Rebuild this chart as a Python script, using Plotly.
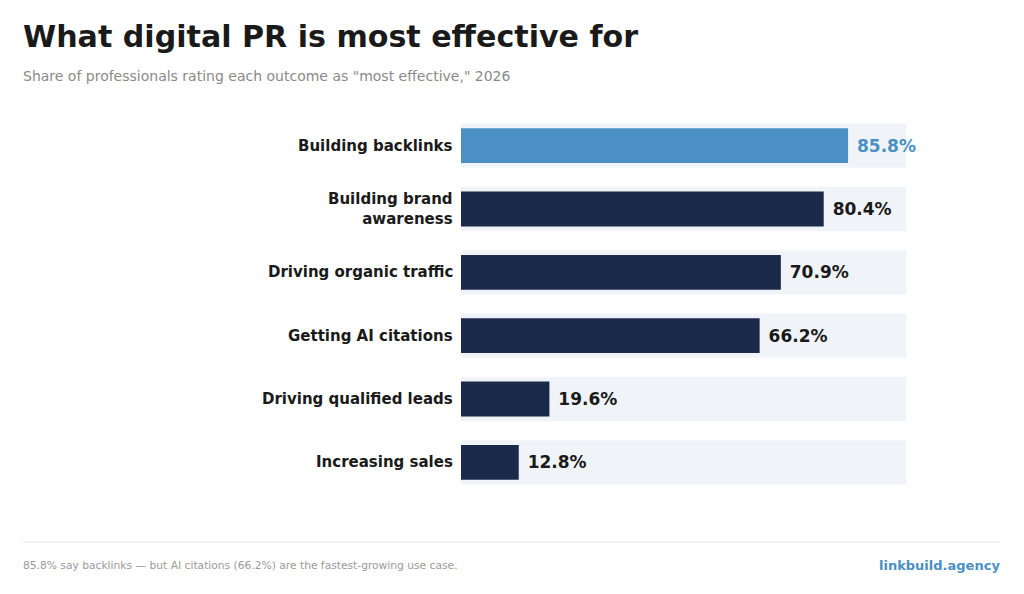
import plotly.graph_objects as go

categories = ["Building backlinks", "Building brand<br>awareness", "Driving organic traffic",
              "Getting AI citations", "Driving qualified leads", "Increasing sales"]
values = [85.8, 80.4, 70.9, 66.2, 19.6, 12.8]
track_max = 98.7

cats = categories[::-1]
vals = values[::-1]
colors = ["#4a90c4" if v == max(values) else "#1b2a4a" for v in vals]
textcolors = ["#4a90c4" if v == max(values) else "#1a1a1a" for v in vals]

OFF = 8  # page offset
W, H = 1024, 594
pl, pr, pt, pb = 461 - OFF, 106 + OFF, 114 - OFF, 100 + OFF
pw, ph = W - pl - pr, H - pt - pb

def px(x): return (x - OFF - pl) / pw
def py(y): return (H - pb - (y - OFF)) / ph

fig = go.Figure()
fig.add_bar(y=cats, x=[track_max]*len(cats), orientation="h", width=0.7,
            marker=dict(color="#f0f4f8", line_width=0), hoverinfo="skip", showlegend=False)
fig.add_bar(y=cats, x=vals, orientation="h", width=0.55,
            marker=dict(color=colors, line_width=0), showlegend=False,
            text=[f"<b> {v:.1f}%</b>" for v in vals], textposition="outside",
            textfont=dict(size=17, color=textcolors, family="DejaVu Sans"),
            cliponaxis=False)

ann = [
    dict(text="<b>What digital PR is most effective for</b>", x=px(21), y=py(37),
         xanchor="left", yanchor="middle", font=dict(size=30.1, color="#1a1a1a")),
    dict(text='Share of professionals rating each outcome as "most effective," 2026', x=px(21), y=py(76),
         xanchor="left", yanchor="middle", font=dict(size=14, color="#8a8a8a")),
    dict(text="85.8% say backlinks — but AI citations (66.2%) are the fastest-growing use case.",
         x=px(21), y=py(565), xanchor="left", yanchor="middle", font=dict(size=10.7, color="#9a9a9a")),
    dict(text="<b>linkbuild.agency</b>", x=px(1002), y=py(565), xanchor="right",
         yanchor="middle", font=dict(size=13, color="#4a90c4")),
]
for c in cats:
    ann.append(dict(text=f"<b>{c}</b>", x=px(455), xref="paper", y=c, yref="y", xanchor="right",
                    yanchor="middle", align="right", font=dict(size=15, color="#1a1a1a")))
for a in ann:
    a.setdefault("xref", "paper"); a.setdefault("yref", "paper"); a["showarrow"] = False

fig.update_layout(
    width=W, height=H, barmode="overlay", plot_bgcolor="white", paper_bgcolor="white",
    margin=dict(l=pl, r=pr, t=pt, b=pb),
    font=dict(family="DejaVu Sans"),
    xaxis=dict(range=[0, 101.3], visible=False),
    yaxis=dict(range=[-0.5, 5.5], showgrid=False, showticklabels=False),
    annotations=ann,
    shapes=[dict(type="line", xref="paper", yref="paper", x0=px(23), x1=px(1000), y0=py(542), y1=py(542),
                 line=dict(color="#e5e5e5", width=1))],
)
fig.write_html("out.html")
